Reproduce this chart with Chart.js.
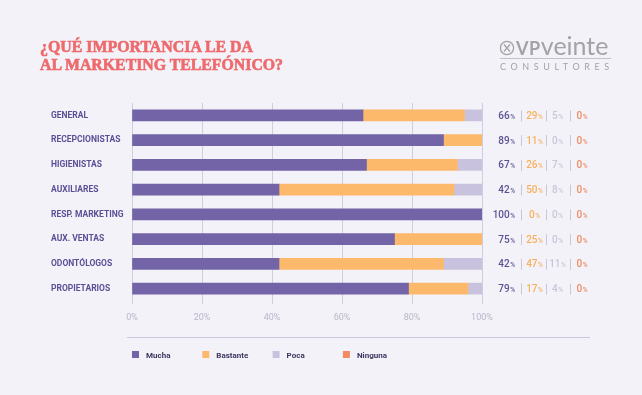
<!DOCTYPE html>
<html><head><meta charset="utf-8">
<script src="https://cdn.jsdelivr.net/npm/chart.js@4"></script>
<style>
html,body{margin:0;padding:0;background:#f3f2f8;}
#wrap{position:relative;width:642px;height:395px;overflow:hidden;background:#f3f2f8;}
#c{position:absolute;left:0;top:0;}
.title{position:absolute;left:40px;top:38px;font-family:"Liberation Serif","DejaVu Serif",serif;font-weight:bold;font-size:16.5px;line-height:18.3px;color:#ee6a6c;white-space:nowrap;-webkit-text-stroke:0.65px #ee6a6c;}
.title span{display:block;transform-origin:0 0;width:max-content;}
.logo{position:absolute;left:499px;top:33px;width:112px;font-family:Lato,"Open Sans",sans-serif;color:#a3a3a6;}
.logo .main{position:absolute;left:0;top:0;white-space:nowrap;font-size:25px;line-height:25px;}
.logo .vp{font-size:18px;letter-spacing:0.6px;font-weight:bold;}
.logo .rule{position:absolute;left:1px;top:25px;width:111px;height:1px;background:#c2c2c6;}
.logo .sub{position:absolute;left:1px;top:28px;font-size:9px;letter-spacing:4.6px;white-space:nowrap;}
</style></head>
<body><div id="wrap">
<canvas id="c" width="642" height="395"></canvas>
<div class="title"><span data-w="213">¿QUÉ IMPORTANCIA LE DA</span><span data-w="243">AL MARKETING TELEFÓNICO?</span></div>
<div class="logo"><div class="main"><svg width="16" height="16" viewBox="0 0 16 16" style="vertical-align:-1px;margin-right:1px"><circle cx="8" cy="8" r="6.6" fill="none" stroke="#a3a3a6" stroke-width="1.3"/><path d="M5 4.5 L11 11.5 M11 4.5 L5 11.5" stroke="#a3a3a6" stroke-width="1.2"/></svg><span class="vp">VP</span>veinte</div><div class="rule"></div><div class="sub">CONSULTORES</div></div>
</div>
<script>
const categories = ["GENERAL","RECEPCIONISTAS","HIGIENISTAS","AUXILIARES","RESP. MARKETING","AUX. VENTAS","ODONTÓLOGOS","PROPIETARIOS"];
const seriesNames = ["Mucha","Bastante","Poca","Ninguna"];
const mucha    = [66, 89, 67, 42, 100, 75, 42, 79];
const bastante = [29, 11, 26, 50,   0, 25, 47, 17];
const poca     = [ 5,  0,  7,  8,   0,  0, 11,  4];
const ninguna  = [ 0,  0,  0,  0,   0,  0,  0,  0];
const xTicks   = [0, 20, 40, 60, 80, 100];

const barColors  = ["#7264a6", "#fdb96b", "#c8c2de", "#f28b63"];
const textColors = ["#5d5294", "#f8b05d", "#c9c5da", "#f08a60"];
const seriesData = [mucha, bastante, poca, ninguna];

document.querySelectorAll('.title span').forEach(s => {
  const w = s.getBoundingClientRect().width;
  s.style.transform = 'scaleX(' + (parseFloat(s.dataset.w) / w) + ')';
});

const valueLabels = {
  id: 'valueLabels',
  afterDraw(chart) {
    const ctx = chart.ctx;
    const y = chart.scales.y;
    ctx.save();
    ctx.textBaseline = 'alphabetic';
    const bigFont = '500 10px Roboto, "Noto Sans", sans-serif';
    const smallFont = '500 6.5px Roboto, "Noto Sans", sans-serif';
    const cols = [{x:515, align:'right'}, {x:534.5, align:'center'}, {x:557.5, align:'center'}, {x:582, align:'center'}];
    const seps = [521, 546, 570];
    categories.forEach((c, i) => {
      const cy = y.getPixelForValue(i);
      const base = cy + 3.6;
      seriesData.forEach((arr, k) => {
        const num = String(arr[i]);
        ctx.font = bigFont; const w1 = ctx.measureText(num).width;
        ctx.font = smallFont; const w2 = ctx.measureText('%').width;
        const total = w1 + w2 + 0.5;
        let x0 = cols[k].align === 'right' ? cols[k].x - total : cols[k].x - total/2;
        ctx.fillStyle = textColors[k];
        ctx.textAlign = 'left';
        ctx.font = bigFont; ctx.fillText(num, x0, base);
        ctx.font = smallFont; ctx.fillText('%', x0 + w1 + 0.5, base);
      });
      ctx.strokeStyle = '#c9c7d6'; ctx.lineWidth = 1;
      seps.forEach(sx => { ctx.beginPath(); ctx.moveTo(sx+0.5, cy-5); ctx.lineTo(sx+0.5, cy+6); ctx.stroke(); });
    });
    ctx.strokeStyle = '#cbc8dc'; ctx.lineWidth = 1;
    ctx.beginPath(); ctx.moveTo(127, 337.5); ctx.lineTo(590, 337.5); ctx.stroke();
    seriesNames.forEach((n, k) => {
      const lx = 132 + k * 70.3;
      ctx.fillStyle = barColors[k];
      ctx.fillRect(lx, 351, 7, 7);
      ctx.fillStyle = '#3e365f';
      ctx.font = 'bold 8px Roboto, "Noto Sans", sans-serif';
      ctx.textAlign = 'left';
      ctx.fillText(n, lx + 14, 357.5);
    });
    ctx.restore();
  }
};

new Chart(document.getElementById('c'), {
  type: 'bar',
  data: {
    labels: categories,
    datasets: seriesNames.map((n, k) => ({
      label: n, data: seriesData[k], backgroundColor: barColors[k], borderWidth: 0, barThickness: 11
    }))
  },
  options: {
    indexAxis: 'y',
    responsive: false,
    animation: false,
    layout: { padding: { left: 51, right: 160, top: 103, bottom: 66 } },
    plugins: { legend: { display: false }, tooltip: { enabled: false } },
    scales: {
      x: {
        stacked: true, min: 0, max: 100,
        afterBuildTicks: s => { s.ticks = xTicks.map(v => ({ value: v })); },
        afterFit: s => { s.height = 28; },
        border: { display: false },
        grid: { color: '#cfcde0', lineWidth: 1, tickLength: 3, drawTicks: true },
        ticks: { color: '#b9b6c9', padding: 8, font: { family: 'Roboto, "Noto Sans", sans-serif', size: 9 }, callback: v => v + '%' }
      },
      y: {
        stacked: true,
        afterFit: s => { s.width = 81; },
        border: { display: false },
        grid: { display: false },
        ticks: { crossAlign: 'far', color: '#5b4f96', padding: 8, font: { family: 'Roboto, "Noto Sans", sans-serif', size: 8.5, weight: 'bold' } }
      }
    }
  },
  plugins: [valueLabels]
});
</script>
</body></html>
